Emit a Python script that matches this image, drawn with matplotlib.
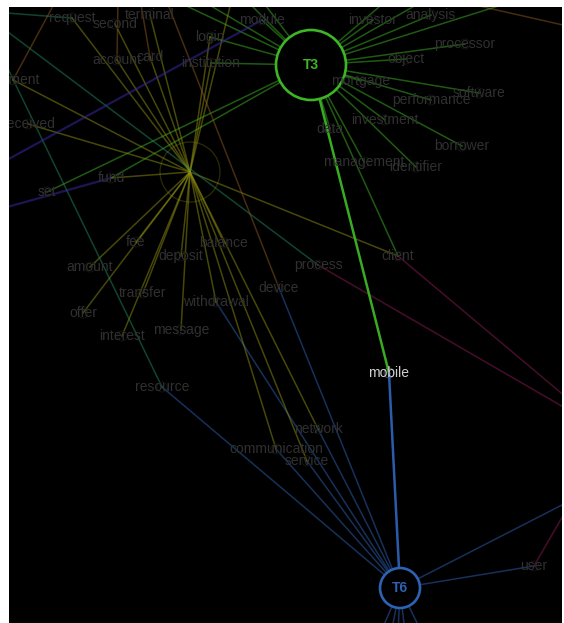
import matplotlib.pyplot as plt
from matplotlib.patches import Circle

plt.rcParams['font.family'] = ['Liberation Sans', 'DejaVu Sans']

# word nodes (layout position, pixel-like units)
words = ["request", "second", "terminal", "module", "login", "account", "card",
         "institution", "payment", "received", "fund", "set", "fee", "balance",
         "deposit", "amount", "transfer", "withdrawal", "offer", "message",
         "interest", "device", "process", "client", "resource", "network",
         "communication", "service", "mobile", "user", "investor", "analysis",
         "processor", "object", "mortgage", "performance", "software",
         "investment", "data", "borrower", "management", "identifier"]
word_x = [72, 115, 150, 262, 210, 117, 150, 211, 13, 28, 111, 47, 136, 224,
          181, 90, 143, 216, 83, 181, 122, 279, 318, 398, 162, 318, 276, 307,
          389, 534, 373, 431, 465, 406, 361, 431, 479, 385, 330, 462, 364, 416]
word_y = [18, 24, 15, 20, 37, 60, 57, 63, 80, 124, 178, 192, 242, 243, 256,
          267, 293, 302, 313, 330, 336, 288, 265, 256, 387, 429, 449, 461, 373,
          566, 20, 15, 44, 59, 81, 100, 93, 120, 129, 146, 162, 167]

# nodes that sit outside the visible window (only their edges show)
hidden = ["h1", "h2", "h3", "h4", "h5", "h6", "h7", "h8", "h9",
          "d1", "d2", "d3", "d4", "d5", "r1"]
hidden_x = [100, 150, 220, 250, 420, 460, 600, 240, 320,
            360, 378, 395, 412, 440, 640]
hidden_y = [-35, -30, -26, -15, -28, -20, -26, -35, -30,
            680, 700, 705, 695, 670, 465]

# topics
topics = ["T3", "T6", "T2", "T1", "T4", "T5", "T7", "T8"]
topic_x = [311, 400, 190, -20, 120, -168, 610, 700]
topic_y = [65, 588, 172, 11, -118, 256, 434, 56]
topic_color = ["#3db524", "#2d62b4", "#8f8f12", "#1d8a5c", "#8c5a1e",
               "#3a2aa8", "#8c1c55", "#8c5a1e"]
topic_radius = [35, 20, 30, 0, 0, 0, 0, 0]
topic_shown = [True, True, False, False, False, False, False, False]

links = {
    "T3": ["investor", "analysis", "processor", "object", "mortgage",
           "performance", "software", "investment", "data", "borrower",
           "management", "identifier", "client", "module", "login",
           "institution", "set", "fund", "h1", "h2", "h3", "h4", "h5", "h6",
           "h7", "mobile"],
    "T2": ["payment", "received", "request", "second", "terminal", "account",
           "card", "login", "institution", "fund", "fee", "balance", "deposit",
           "amount", "transfer", "withdrawal", "offer", "message", "interest",
           "client", "network", "communication", "service", "h8"],
    "T6": ["resource", "communication", "service", "network", "device",
           "withdrawal", "user", "r1", "d1", "d2", "d3", "d4", "d5", "mobile"],
    "T1": ["request", "process", "resource"],
    "T4": ["payment", "account", "card", "device"],
    "T5": ["fund", "module"],
    "T7": ["process", "client", "user"],
    "T8": ["h9"],
}
selected = "mobile"

pos = {}
for n, x, y in zip(words, word_x, word_y):
    pos[n] = (x, y)
for n, x, y in zip(hidden, hidden_x, hidden_y):
    pos[n] = (x, y)
for n, x, y in zip(topics, topic_x, topic_y):
    pos[n] = (x, y)

fig = plt.figure(figsize=(5.64, 6.23), dpi=100, facecolor="white")
ax = fig.add_axes([9 / 564, 0, 553 / 564, 616 / 623])
ax.set_facecolor("black")
ax.set_xlim(9, 562)
ax.set_ylim(623, 7)
ax.set_xticks([])
ax.set_yticks([])
for s in ax.spines.values():
    s.set_visible(False)

# edges, the ones touching the selected word go on top, brighter
for i, t in enumerate(topics):
    for w in links[t]:
        x0, y0 = pos[t]
        x1, y1 = pos[w]
        if w == selected:
            ax.plot([x0, x1], [y0, y1], color=topic_color[i], lw=1.8,
                    alpha=0.95, zorder=3)
        else:
            lw = 1.6 if t == "T5" else 1.1
            ax.plot([x0, x1], [y0, y1], color=topic_color[i], lw=lw,
                    alpha=0.5, zorder=1)

# word nodes + labels (labels above the topic circles)
for n, x, y in zip(words, word_x, word_y):
    ec = "#555555" if n == selected else "#161616"
    ax.add_patch(Circle((x, y), 5, fill=False, ec=ec, lw=0.6, zorder=2))
    c = "#cfcfcf" if n == selected else "#303030"
    ax.text(x, y, n, color=c, fontsize=10, ha="center", va="center",
            zorder=7, clip_on=True)

# topic circles
for i, t in enumerate(topics):
    if topic_radius[i] == 0:
        continue
    if topic_shown[i]:
        ax.add_patch(Circle(pos[t], topic_radius[i], fc="black",
                            ec=topic_color[i], lw=1.9, zorder=5))
        ax.text(pos[t][0], pos[t][1], t, color=topic_color[i], fontsize=10,
                fontweight="bold", ha="center", va="center", zorder=6)
    else:
        ax.add_patch(Circle(pos[t], topic_radius[i], fill=False,
                            ec=topic_color[i], lw=0.9, alpha=0.3, zorder=2))

fig.savefig("out.png", dpi=100, facecolor="white")
